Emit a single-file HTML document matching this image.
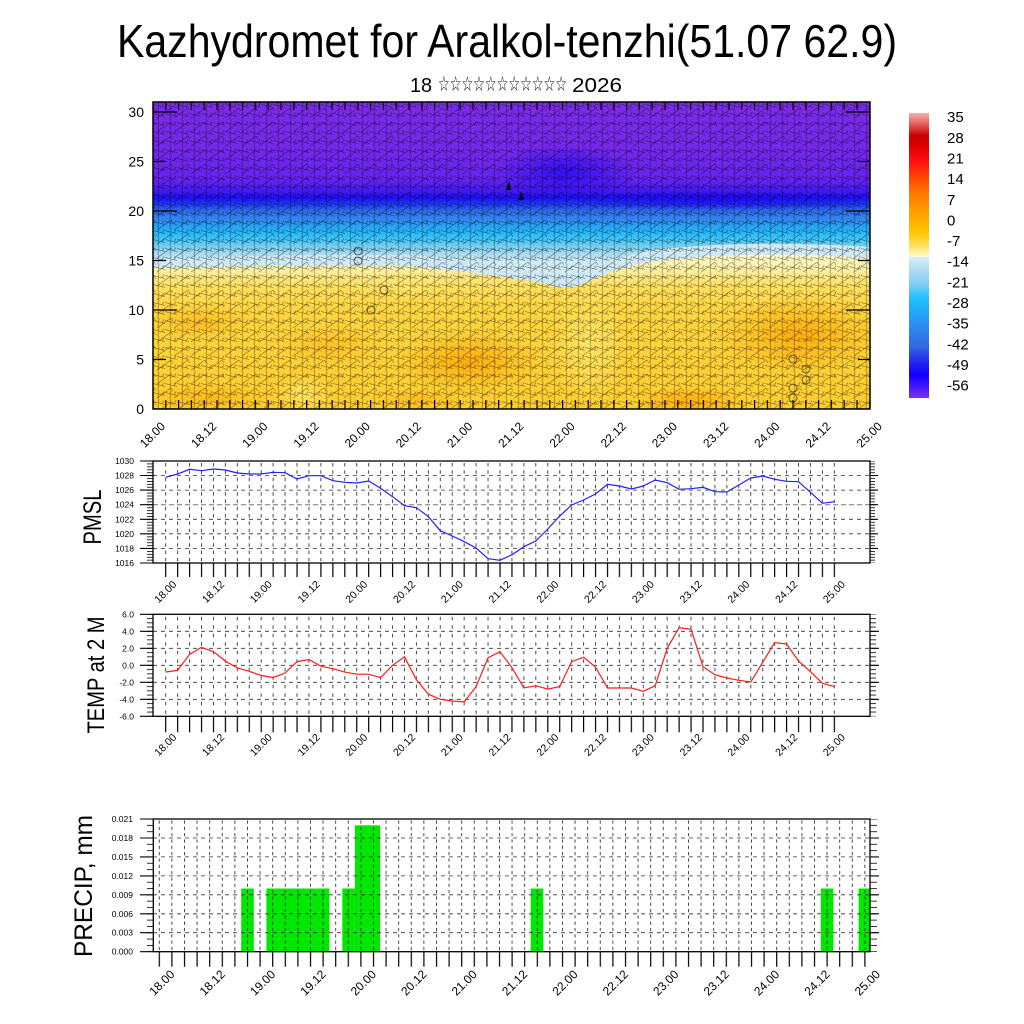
<!DOCTYPE html>
<html><head><meta charset="utf-8"><style>html,body{margin:0;padding:0;background:#fff}svg{display:block}</style></head>
<body>
<svg width="1024" height="1024" viewBox="0 0 1024 1024" xmlns="http://www.w3.org/2000/svg" font-family="'Liberation Sans', Arial, sans-serif">
<defs>
<clipPath id="mc"><rect x="153" y="102" width="717" height="307"/></clipPath>
<linearGradient id="bg" gradientUnits="userSpaceOnUse" x1="0" y1="102" x2="0" y2="409">
<stop offset="0" stop-color="#7c2ce8"/>
<stop offset="0.156" stop-color="#7428ea"/>
<stop offset="0.254" stop-color="#6424ee"/>
<stop offset="0.293" stop-color="#4018f0"/>
<stop offset="0.313" stop-color="#1a10f8"/>
<stop offset="0.332" stop-color="#2038f0"/>
<stop offset="0.358" stop-color="#3070e8"/>
<stop offset="0.391" stop-color="#3090f0"/>
<stop offset="0.423" stop-color="#20b8f8"/>
<stop offset="0.456" stop-color="#50c8f4"/>
<stop offset="0.489" stop-color="#a0d8f0"/>
<stop offset="0.521" stop-color="#d0ecf6"/>
<stop offset="1" stop-color="#e0f2f8"/>
</linearGradient>
<linearGradient id="yg" gradientUnits="userSpaceOnUse" x1="0" y1="255" x2="0" y2="409">
<stop offset="0" stop-color="#fffacc"/>
<stop offset="0.1" stop-color="#fff0a0"/>
<stop offset="0.2" stop-color="#ffe060"/>
<stop offset="0.36" stop-color="#ffd640"/>
<stop offset="1" stop-color="#ffce30"/>
</linearGradient>
<radialGradient id="og"><stop offset="0" stop-color="#ffa400" stop-opacity="0.8"/><stop offset="1" stop-color="#ffa400" stop-opacity="0"/></radialGradient>
<radialGradient id="lg"><stop offset="0" stop-color="#ffe870" stop-opacity="0.8"/><stop offset="1" stop-color="#ffe870" stop-opacity="0"/></radialGradient>
<radialGradient id="dbg"><stop offset="0" stop-color="#2008f4" stop-opacity="0.75"/><stop offset="1" stop-color="#2008f4" stop-opacity="0"/></radialGradient>
<linearGradient id="cb" x1="0" y1="0" x2="0" y2="1">
<stop offset="0" stop-color="#f6b0b0"/>
<stop offset="0.03" stop-color="#e87070"/>
<stop offset="0.08" stop-color="#c80000"/>
<stop offset="0.12" stop-color="#e00000"/>
<stop offset="0.17" stop-color="#ff1010"/>
<stop offset="0.22" stop-color="#ff4000"/>
<stop offset="0.27" stop-color="#ff7000"/>
<stop offset="0.32" stop-color="#ff9000"/>
<stop offset="0.37" stop-color="#ffaa00"/>
<stop offset="0.42" stop-color="#ffc800"/>
<stop offset="0.465" stop-color="#ffe060"/>
<stop offset="0.49" stop-color="#fff0a0"/>
<stop offset="0.503" stop-color="#ffffd0"/>
<stop offset="0.506" stop-color="#d8eef8"/>
<stop offset="0.55" stop-color="#b0dcf0"/>
<stop offset="0.6" stop-color="#80cdf4"/>
<stop offset="0.65" stop-color="#20c0ff"/>
<stop offset="0.7" stop-color="#20a8f8"/>
<stop offset="0.75" stop-color="#3088f0"/>
<stop offset="0.82" stop-color="#3068e0"/>
<stop offset="0.88" stop-color="#2020f0"/>
<stop offset="0.92" stop-color="#1000ff"/>
<stop offset="1" stop-color="#7a30f0"/>
</linearGradient>
<pattern id="barb" x="153" y="102" width="12" height="9" patternUnits="userSpaceOnUse">
<path d="M0,2.5 L12,5.5 M6,0 L5,9 M9,4.8 L11,1.5" stroke="#000" stroke-width="0.8" fill="none" stroke-opacity="0.42"/>
</pattern>
<pattern id="barb2" x="157" y="106" width="17" height="14" patternUnits="userSpaceOnUse">
<path d="M0,12 L14,2 M14,2 L16,5" stroke="#000" stroke-width="0.8" fill="none" stroke-opacity="0.35"/>
</pattern>
<pattern id="mt" x="152.4" y="0" width="12.8" height="20" patternUnits="userSpaceOnUse"><rect x="0" y="0" width="1.2" height="20" fill="#000"/></pattern>
<pattern id="pt" x="165.1" y="0" width="11.94" height="20" patternUnits="userSpaceOnUse"><rect x="0" y="0" width="1.2" height="20" fill="#000"/></pattern>
<pattern id="pg" x="165.2" y="461" width="11.94" height="7.3" patternUnits="userSpaceOnUse"><rect x="0" y="2" width="0.9" height="3.5" fill="#333"/></pattern>
<pattern id="tg" x="165.2" y="614.3" width="11.94" height="8.5" patternUnits="userSpaceOnUse"><rect x="0" y="2.5" width="0.9" height="3.5" fill="#333"/></pattern>
<pattern id="qt" x="158.7" y="0" width="12.6" height="20" patternUnits="userSpaceOnUse"><rect x="0" y="0" width="1.2" height="20" fill="#000"/></pattern>
<pattern id="qg" x="158.8" y="819" width="12.6" height="6.32" patternUnits="userSpaceOnUse"><rect x="0" y="1.5" width="0.9" height="3.2" fill="#333"/></pattern>
<pattern id="pm" x="0" y="460.6" width="20" height="2.916" patternUnits="userSpaceOnUse"><rect x="0" y="0" width="20" height="0.8" fill="#000"/></pattern>
<pattern id="tm" x="0" y="613.9" width="20" height="4.25" patternUnits="userSpaceOnUse"><rect x="0" y="0" width="20" height="0.8" fill="#000"/></pattern>
<pattern id="qm" x="0" y="818.6" width="20" height="6.319" patternUnits="userSpaceOnUse"><rect x="0" y="0" width="20" height="0.8" fill="#000"/></pattern>
</defs>

<rect width="1024" height="1024" fill="#fff"/>

<!-- Titles -->
<text x="507" y="57" font-size="46" text-anchor="middle" textLength="780" lengthAdjust="spacingAndGlyphs">Kazhydromet for Aralkol-tenzhi(51.07 62.9)</text>
<text x="410" y="92" font-size="20" textLength="22" lengthAdjust="spacingAndGlyphs">18</text>
<text x="438" y="91" font-size="21" font-family="'DejaVu Sans', sans-serif" textLength="129" lengthAdjust="spacingAndGlyphs">☆☆☆☆☆☆☆☆☆☆☆</text>
<text x="572" y="92" font-size="20" textLength="50" lengthAdjust="spacingAndGlyphs">2026</text>

<!-- Main field -->
<g clip-path="url(#mc)">
<rect x="153" y="102" width="717" height="307" fill="url(#bg)"/>
<ellipse cx="565" cy="172" rx="70" ry="28" fill="url(#dbg)"/>
<ellipse cx="720" cy="200" rx="160" ry="10" fill="url(#dbg)"/>
<path d="M153,270 C250,267 380,264 420,267 C470,272 520,278 545,284 C560,289 575,289 590,281 C620,266 650,260 700,257 C760,253 820,255 870,258" fill="none" stroke="#cfeaf6" stroke-width="22"/>
<path d="M153,268 C250,266 380,264 420,267 C470,272 520,278 545,284 C560,289 575,289 590,281 C620,266 650,260 700,257 C760,253 820,255 870,258 L870,409 L153,409 Z" fill="url(#yg)"/>
<ellipse cx="470" cy="362" rx="75" ry="32" fill="url(#og)"/>
<ellipse cx="330" cy="345" rx="55" ry="20" fill="url(#og)" opacity="0.5"/>
<ellipse cx="200" cy="322" rx="55" ry="18" fill="url(#og)" opacity="0.6"/>
<ellipse cx="800" cy="335" rx="85" ry="40" fill="url(#og)"/>
<ellipse cx="690" cy="402" rx="55" ry="16" fill="url(#og)"/>
<ellipse cx="210" cy="398" rx="65" ry="16" fill="url(#og)" opacity="0.6"/>
<ellipse cx="420" cy="400" rx="45" ry="12" fill="url(#og)" opacity="0.5"/>
<ellipse cx="590" cy="345" rx="40" ry="60" fill="url(#lg)"/>
<ellipse cx="305" cy="395" rx="28" ry="20" fill="url(#lg)"/>
<ellipse cx="410" cy="283" rx="45" ry="14" fill="url(#lg)"/>
<rect x="153" y="102" width="717" height="307" fill="url(#barb)"/>
<rect x="153" y="102" width="717" height="307" fill="url(#barb2)"/>
<g fill="none" stroke="#000" stroke-width="0.8" stroke-opacity="0.7">
<circle cx="358" cy="251" r="4"/><circle cx="358" cy="261" r="4"/><circle cx="384" cy="290" r="4"/><circle cx="371" cy="310" r="4"/>
<circle cx="793" cy="359" r="4"/><circle cx="806" cy="369" r="4"/><circle cx="806" cy="380" r="4"/><circle cx="793" cy="388" r="4"/><circle cx="793" cy="398" r="4"/>
</g>
<path d="M506,190 L509,181 L511,190 Z M519,200 L521,191 L524,200 Z" fill="#000"/>
<rect x="153" y="400" width="717" height="9" fill="url(#mt)"/>
<rect x="153" y="102" width="717" height="8" fill="url(#mt)"/>
<path d="M153,409H177M153,310H177M153,211H177M153,112H177M153,359.5H166M153,260.5H166M153,161.5H166M870,409H846M870,310H846M870,211H846M870,112H846M870,359.5H858M870,260.5H858M870,161.5H858" stroke="#000" stroke-width="1.2"/>
</g>
<rect x="153" y="102" width="717" height="307" fill="none" stroke="#000" stroke-width="1.5"/>
<g font-size="14" text-anchor="end">
<text x="144" y="414">0</text><text x="144" y="364.5">5</text><text x="144" y="315">10</text><text x="144" y="265.5">15</text><text x="144" y="216">20</text><text x="144" y="166.5">25</text><text x="144" y="117">30</text>
</g>
<g font-size="12" text-anchor="end">
<text x="166" y="427" transform="rotate(-45 166 427)">18.00</text>
<text x="217.2" y="427" transform="rotate(-45 217.2 427)">18.12</text>
<text x="268.4" y="427" transform="rotate(-45 268.4 427)">19.00</text>
<text x="319.6" y="427" transform="rotate(-45 319.6 427)">19.12</text>
<text x="370.8" y="427" transform="rotate(-45 370.8 427)">20.00</text>
<text x="422" y="427" transform="rotate(-45 422 427)">20.12</text>
<text x="473.2" y="427" transform="rotate(-45 473.2 427)">21.00</text>
<text x="524.4" y="427" transform="rotate(-45 524.4 427)">21.12</text>
<text x="575.6" y="427" transform="rotate(-45 575.6 427)">22.00</text>
<text x="626.8" y="427" transform="rotate(-45 626.8 427)">22.12</text>
<text x="678" y="427" transform="rotate(-45 678 427)">23.00</text>
<text x="729.2" y="427" transform="rotate(-45 729.2 427)">23.12</text>
<text x="780.4" y="427" transform="rotate(-45 780.4 427)">24.00</text>
<text x="831.6" y="427" transform="rotate(-45 831.6 427)">24.12</text>
<text x="882.8" y="427" transform="rotate(-45 882.8 427)">25.00</text>
</g>

<!-- Colorbar -->
<rect x="909" y="113" width="20" height="285" fill="url(#cb)"/>
<g font-size="15">
<text x="947" y="122.2">35</text><text x="947" y="142.8">28</text><text x="947" y="163.5">21</text><text x="947" y="184.1">14</text>
<text x="947" y="204.8">7</text><text x="947" y="225.4">0</text><text x="947" y="246.1">-7</text><text x="947" y="266.7">-14</text>
<text x="947" y="287.3">-21</text><text x="947" y="308">-28</text><text x="947" y="328.6">-35</text><text x="947" y="349.3">-42</text>
<text x="947" y="369.9">-49</text><text x="947" y="390.5">-56</text>
</g>

<!-- PMSL panel -->
<rect x="160" y="462" width="680" height="100" fill="url(#pg)"/>
<g stroke="#333" stroke-width="0.8" stroke-dasharray="4 4">
<path d="M153,548.4H870M153,533.8H870M153,519.3H870M153,490.1H870M153,475.5H870"/>
</g>
<path d="M153,504.7H870" stroke="#777" stroke-width="1" stroke-dasharray="5 3"/>
<rect x="147" y="461" width="6" height="102" fill="url(#pm)"/>
<rect x="870" y="461" width="5" height="102" fill="url(#pm)"/>
<path d="M140,461H153M140,475.5H153M140,490.1H153M140,504.7H153M140,519.3H153M140,533.8H153M140,548.4H153M140,563H153M870,475.5H878M870,490.1H878M870,504.7H878M870,519.3H878M870,533.8H878M870,548.4H878" stroke="#000" stroke-width="1.1"/>
<rect x="160" y="563" width="680" height="14" fill="url(#pt)"/>
<polyline fill="none" stroke="#2020ff" stroke-width="1.2" points="165.7,477.3 177.6,474 189.6,469.3 201.5,470.7 213.5,469 225.4,470 237.3,473 249.3,474 261.2,474 273.2,472.3 285.1,472.7 297,479 309,475.7 320.9,475.7 332.9,480.7 344.8,482.3 356.7,483 368.7,481 380.6,488.3 392.6,496.7 404.5,505.7 416.4,507.7 428.4,516.7 440.3,530.7 452.3,536 464.2,541.7 476.1,548 488.1,558.7 500,560.3 512,554.7 523.9,546.7 535.8,541 547.8,529 559.7,516 571.7,505 583.6,500 595.5,494 607.5,484.3 619.4,486 631.4,489 643.3,486 655.2,480 667.2,482.7 679.1,489.3 691.1,488.7 703,487.3 714.9,491.7 726.9,492 738.8,485 750.8,478 762.7,476 774.6,479.3 786.6,481.3 798.5,481.7 810.5,492.3 822.4,503.3 834.3,501.7"/>
<rect x="153" y="461" width="717" height="102" fill="none" stroke="#000" stroke-width="1.3"/>
<g font-size="8.5" text-anchor="end">
<text x="134" y="464">1030</text><text x="134" y="478.5">1028</text><text x="134" y="493.1">1026</text><text x="134" y="507.7">1024</text>
<text x="134" y="522.3">1022</text><text x="134" y="536.8">1020</text><text x="134" y="551.4">1018</text><text x="134" y="566">1016</text>
</g>
<text x="101" y="517" font-size="25" text-anchor="middle" transform="rotate(-90 101 517)" textLength="55" lengthAdjust="spacingAndGlyphs">PMSL</text>
<g font-size="10.5" text-anchor="end">
<text x="177.2" y="585" transform="rotate(-45 177.2 585)">18.00</text>
<text x="225" y="585" transform="rotate(-45 225 585)">18.12</text>
<text x="272.7" y="585" transform="rotate(-45 272.7 585)">19.00</text>
<text x="320.5" y="585" transform="rotate(-45 320.5 585)">19.12</text>
<text x="368.2" y="585" transform="rotate(-45 368.2 585)">20.00</text>
<text x="416" y="585" transform="rotate(-45 416 585)">20.12</text>
<text x="463.8" y="585" transform="rotate(-45 463.8 585)">21.00</text>
<text x="511.5" y="585" transform="rotate(-45 511.5 585)">21.12</text>
<text x="559.3" y="585" transform="rotate(-45 559.3 585)">22.00</text>
<text x="607" y="585" transform="rotate(-45 607 585)">22.12</text>
<text x="654.8" y="585" transform="rotate(-45 654.8 585)">23.00</text>
<text x="702.6" y="585" transform="rotate(-45 702.6 585)">23.12</text>
<text x="750.3" y="585" transform="rotate(-45 750.3 585)">24.00</text>
<text x="798.1" y="585" transform="rotate(-45 798.1 585)">24.12</text>
<text x="845.8" y="585" transform="rotate(-45 845.8 585)">25.00</text>
</g>

<!-- TEMP panel -->
<rect x="160" y="615" width="680" height="101" fill="url(#tg)"/>
<g stroke="#333" stroke-width="0.8" stroke-dasharray="4 4">
<path d="M153,631.3H870M153,648.3H870M153,665.3H870M153,682.3H870M153,699.3H870"/>
</g>
<rect x="147" y="614.3" width="6" height="102" fill="url(#tm)"/>
<rect x="870" y="614.3" width="6" height="102" fill="url(#tm)"/>
<path d="M140,614.3H153M140,631.3H153M140,648.3H153M140,665.3H153M140,682.3H153M140,699.3H153M140,716.3H153M870,631.3H879M870,648.3H879M870,665.3H879M870,682.3H879M870,699.3H879" stroke="#000" stroke-width="1.1"/>
<rect x="160" y="716.3" width="680" height="16" fill="url(#pt)"/>
<polyline fill="none" stroke="#ff1a1a" stroke-width="1.2" points="165.7,672 177.6,670.4 189.6,654.3 201.5,647.4 213.5,651.7 225.4,661.1 237.3,667.9 249.3,671.3 261.2,675.5 273.2,677.6 285.1,673 297,661.6 309,659.6 320.9,666.2 332.9,668.7 344.8,672.1 356.7,674.2 368.7,674.2 380.6,677.6 392.6,665.3 404.5,656.8 416.4,679.8 428.4,694.2 440.3,699.3 452.3,701 464.2,701.9 476.1,686.6 488.1,657.7 500,651.7 512,667.7 523.9,688 535.8,685.7 547.8,689.1 559.7,686.6 571.7,661.6 583.6,657.3 595.5,667 607.5,688 619.4,688 631.4,688 643.3,691.3 655.2,685.7 667.2,648.3 679.1,627.6 691.1,629.3 703,666.7 714.9,674.7 726.9,678 738.8,680.3 750.8,682 762.7,662.3 774.6,642.7 786.6,644 798.5,661.1 810.5,671.7 822.4,683.3 834.3,686.6"/>
<rect x="153" y="614.3" width="717" height="102" fill="none" stroke="#000" stroke-width="1.3"/>
<g font-size="8.5" text-anchor="end">
<text x="134" y="617.3">6.0</text><text x="134" y="634.3">4.0</text><text x="134" y="651.3">2.0</text><text x="134" y="668.3">0.0</text>
<text x="134" y="685.3">-2.0</text><text x="134" y="702.3">-4.0</text><text x="134" y="719.3">-6.0</text>
</g>
<text x="104" y="675" font-size="24" text-anchor="middle" transform="rotate(-90 104 675)" textLength="117" lengthAdjust="spacingAndGlyphs">TEMP at 2 M</text>
<g font-size="10.5" text-anchor="end">
<text x="177.2" y="738" transform="rotate(-45 177.2 738)">18.00</text>
<text x="225" y="738" transform="rotate(-45 225 738)">18.12</text>
<text x="272.7" y="738" transform="rotate(-45 272.7 738)">19.00</text>
<text x="320.5" y="738" transform="rotate(-45 320.5 738)">19.12</text>
<text x="368.2" y="738" transform="rotate(-45 368.2 738)">20.00</text>
<text x="416" y="738" transform="rotate(-45 416 738)">20.12</text>
<text x="463.8" y="738" transform="rotate(-45 463.8 738)">21.00</text>
<text x="511.5" y="738" transform="rotate(-45 511.5 738)">21.12</text>
<text x="559.3" y="738" transform="rotate(-45 559.3 738)">22.00</text>
<text x="607" y="738" transform="rotate(-45 607 738)">22.12</text>
<text x="654.8" y="738" transform="rotate(-45 654.8 738)">23.00</text>
<text x="702.6" y="738" transform="rotate(-45 702.6 738)">23.12</text>
<text x="750.3" y="738" transform="rotate(-45 750.3 738)">24.00</text>
<text x="798.1" y="738" transform="rotate(-45 798.1 738)">24.12</text>
<text x="845.8" y="738" transform="rotate(-45 845.8 738)">25.00</text>
</g>

<!-- PRECIP panel -->
<g fill="#00e800">
<rect x="241.2" y="888.5" width="12.6" height="63.2"/>
<rect x="266.4" y="888.5" width="63" height="63.2"/>
<rect x="342.3" y="888.5" width="12.6" height="63.2"/>
<rect x="354.9" y="825.3" width="25.2" height="126.4"/>
<rect x="530.7" y="888.5" width="12.6" height="63.2"/>
<rect x="820.8" y="888.5" width="12.6" height="63.2"/>
<rect x="858.6" y="888.5" width="11.4" height="63.2"/>
</g>
<rect x="155" y="820" width="713" height="131" fill="url(#qg)"/>
<g stroke="#333" stroke-width="0.8" stroke-dasharray="4 4">
<path d="M153,838H870M153,856.9H870M153,875.9H870M153,894.8H870M153,913.8H870M153,932.7H870"/>
</g>
<rect x="147" y="819" width="6" height="133" fill="url(#qm)"/>
<rect x="870" y="819" width="7" height="133" fill="url(#qm)"/>
<path d="M140,819H153M140,838H153M140,856.9H153M140,875.9H153M140,894.8H153M140,913.8H153M140,932.7H153M140,951.7H153M870,838H879M870,856.9H879M870,875.9H879M870,894.8H879M870,913.8H879M870,932.7H879" stroke="#000" stroke-width="1.1"/>
<rect x="155" y="951.7" width="714" height="15" fill="url(#qt)"/>
<rect x="153.3" y="819" width="716.7" height="132.7" fill="none" stroke="#000" stroke-width="1.3"/>
<g font-size="8.5" text-anchor="end">
<text x="133" y="822">0.021</text><text x="133" y="841">0.018</text><text x="133" y="859.9">0.015</text><text x="133" y="878.9">0.012</text>
<text x="133" y="897.8">0.009</text><text x="133" y="916.8">0.006</text><text x="133" y="935.7">0.003</text><text x="133" y="954.7">0.000</text>
</g>
<text x="92" y="886" font-size="25" text-anchor="middle" transform="rotate(-90 92 886)" textLength="142" lengthAdjust="spacingAndGlyphs">PRECIP, mm</text>
<g font-size="12" text-anchor="end">
<text x="175.3" y="975" transform="rotate(-45 175.3 975)">18.00</text>
<text x="225.7" y="975" transform="rotate(-45 225.7 975)">18.12</text>
<text x="276.1" y="975" transform="rotate(-45 276.1 975)">19.00</text>
<text x="326.5" y="975" transform="rotate(-45 326.5 975)">19.12</text>
<text x="376.9" y="975" transform="rotate(-45 376.9 975)">20.00</text>
<text x="427.3" y="975" transform="rotate(-45 427.3 975)">20.12</text>
<text x="477.7" y="975" transform="rotate(-45 477.7 975)">21.00</text>
<text x="528.1" y="975" transform="rotate(-45 528.1 975)">21.12</text>
<text x="578.5" y="975" transform="rotate(-45 578.5 975)">22.00</text>
<text x="628.9" y="975" transform="rotate(-45 628.9 975)">22.12</text>
<text x="679.3" y="975" transform="rotate(-45 679.3 975)">23.00</text>
<text x="729.7" y="975" transform="rotate(-45 729.7 975)">23.12</text>
<text x="780.1" y="975" transform="rotate(-45 780.1 975)">24.00</text>
<text x="830.5" y="975" transform="rotate(-45 830.5 975)">24.12</text>
<text x="880.9" y="975" transform="rotate(-45 880.9 975)">25.00</text>
</g>
</svg>
</body></html>
